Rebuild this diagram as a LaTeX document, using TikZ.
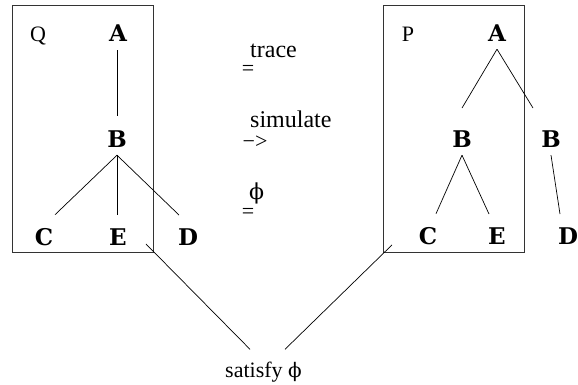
\documentclass[tikz,border=0pt]{standalone}
\usepackage{fontspec}
\setmainfont{Liberation Serif}
\newfontfamily\phifont{DejaVu Serif}
\newfontfamily\letterfont{DejaVu Serif}
\usetikzlibrary{calc}
\begin{document}
\begin{tikzpicture}[x=1pt,y=-1pt,
  lbl/.style={inner sep=0pt, font=\fontsize{23}{27}\letterfont\bfseries},
  txt/.style={inner sep=0pt, font=\fontsize{22}{26}\selectfont},
  rel/.style={inner sep=0pt, font=\fontsize{24}{28}\selectfont},
  edge/.style={line width=0.7pt},
  frame/.style={draw=black!80, line width=0.9pt, inner sep=0pt, anchor=north west}]
\useasboundingbox (0,0) rectangle (578,385);
% boxes
\node[frame, minimum width=141pt, minimum height=247pt] (Qbox) at (12,5) {};
\node[frame, minimum width=141pt, minimum height=247pt] (Pbox) at (383,5) {};
% Q tree
\node[txt, anchor=base] (Q) at (38,42) {Q};
\node[lbl, anchor=base] (QA) at (118,42) {A};
\node[lbl, anchor=base] (QB) at (117,147) {B};
\node[lbl, anchor=base] (QC) at (44,245) {C};
\node[lbl, anchor=base] (QE) at (118,245) {E};
\node[lbl, anchor=base] (QD) at (188,245) {D};
\draw[edge] ($(QA.south)+(-1,8)$) -- ($(QB.north)+(0,-14)$);
\draw[edge] ($(QB.south)+(0,8)$) -- ($(QC.north)+(11,-13)$);
\draw[edge] ($(QB.south)+(0,8)$) -- ($(QE.north)+(-1,-13)$);
\draw[edge] ($(QB.south)+(0,8)$) -- ($(QD.north)+(-9,-13)$);
% P tree
\node[txt, anchor=base] (P) at (408,42) {P};
\node[lbl, anchor=base] (PA) at (497,42) {A};
\node[lbl, anchor=base] (PB1) at (462,147) {B};
\node[lbl, anchor=base] (PB2) at (551,147) {B};
\node[lbl, anchor=base] (PC) at (428,244) {C};
\node[lbl, anchor=base] (PE) at (497,244) {E};
\node[lbl, anchor=base] (PD) at (568,244) {D};
\draw[edge] ($(PA.south)+(0,7)$) -- ($(PB1.north)+(0,-22)$);
\draw[edge] ($(PA.south)+(0,7)$) -- ($(PB2.north)+(-18,-22)$);
\draw[edge] ($(PB1.south)+(0,8)$) -- ($(PC.north)+(8,-13)$);
\draw[edge] ($(PB1.south)+(0,8)$) -- ($(PE.north)+(-8,-13)$);
\draw[edge] ($(PB2.south)+(0,8)$) -- ($(PD.north)+(-8,-13)$);
% middle relations
\node[rel, anchor=base west] (tr) at (250,58) {trace};
\node[txt] (eq1) at (248,70) {=};
\node[rel, anchor=base west] (sim) at (250,128) {simulate};
\node[txt] (arr) at (255,142) {−>};
\node[txt] (ph) at (256.5,193) {\phifont ϕ};
\node[txt] (eq2) at (248,213) {=};
% satisfy
\node[txt, anchor=base west] (sat) at (225,377) {satisfy {\phifont\fontsize{20}{24}\selectfont ϕ}};
\draw[edge] ($(Qbox.south east)+(-8,-9)$) -- ($(sat.north west)+(25,-12)$);
\draw[edge] ($(Pbox.south west)+(9,-8)$) -- ($(sat.north west)+(60,-12)$);
\end{tikzpicture}
\end{document}
